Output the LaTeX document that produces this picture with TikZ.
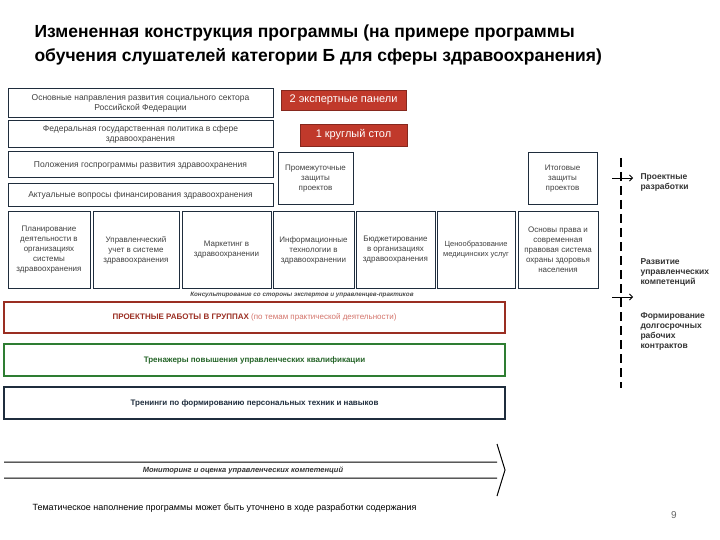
\documentclass[tikz,border=0pt]{standalone}
\usepackage{fontspec}
\setmainfont{Liberation Sans}
\usetikzlibrary{arrows.meta}
\definecolor{dk}{HTML}{1F2D3D}
\definecolor{rd}{HTML}{C0392B}
\definecolor{gr}{HTML}{2E7D32}
\begin{document}
\begin{tikzpicture}[x=1pt,y=-1pt,
 bx/.style={draw=dk,line width=1pt,align=center,font=\fontsize{8.5}{10}\selectfont,text=black!75,inner sep=0pt},
 mx/.style={bx,font=\fontsize{8}{10}\selectfont},
 rbx/.style={draw=rd!70!black,fill=rd,text=white,font=\fontsize{11}{12}\selectfont,inner sep=1pt},
 lab/.style={anchor=north west,align=left,font=\fontsize{8.5}{10}\bfseries\selectfont,text=black!80}]
\useasboundingbox (0,0) rectangle (720,540);
\node[anchor=west,align=left,font=\fontsize{17.5}{24}\bfseries\selectfont] (title) at (31,45) {Измененная конструкция программы (на примере программы\\обучения слушателей категории Б для сферы здравоохранения)};
% left boxes
\node[bx,minimum width=265,minimum height=29] (l1) at (140.5,103.5) {Основные направления развития социального сектора\\Российской Федерации};
\node[bx,minimum width=265,minimum height=27] (l2) at (140.5,134.5) {Федеральная государственная политика в сфере\\здравоохранения};
\node[bx,minimum width=265,minimum height=26] (l3) at (140.5,165) {Положения госпрограммы развития здравоохранения};
\node[bx,minimum width=265,minimum height=23] (l4) at (140.5,195.5) {Актуальные вопросы финансирования здравоохранения};
% red
\node[rbx,minimum width=125,minimum height=20] (r1) at (343.5,100) {2 экспертные панели};
\node[rbx,minimum width=107,minimum height=22] (r2) at (353.5,135) {1 круглый стол};
\node[mx,minimum width=75,minimum height=52] (p1) at (315.5,179) {Промежуточные\\защиты\\проектов};
\node[mx,minimum width=69,minimum height=52] (p2) at (562.5,179) {Итоговые\\защиты\\проектов};
% row of modules
\node[mx,minimum width=82,minimum height=76] (m1) at (49,250) {Планирование\\деятельности в\\организациях\\системы\\здравоохранения};
\node[mx,minimum width=86,minimum height=76] (m2) at (136,250) {Управленческий\\учет в системе\\здравоохранения};
\node[mx,minimum width=89,minimum height=76] (m3) at (226.5,250) {Маркетинг в\\здравоохранении};
\node[mx,minimum width=81,minimum height=76] (m4) at (313.5,250) {Информационные\\технологии в\\здравоохранении};
\node[mx,minimum width=79,minimum height=76] (m5) at (395.5,250) {Бюджетирование\\в организациях\\здравоохранения};
\node[mx,minimum width=78,minimum height=76,font=\fontsize{7.5}{10}\selectfont] (m6) at (476,250) {Ценообразование\\медицинских услуг};
\node[mx,minimum width=80,minimum height=76] (m7) at (558,250) {Основы права и\\современная\\правовая система\\охраны здоровья\\населения};
\node[font=\fontsize{6.3}{7}\bfseries\itshape\selectfont,text=black!70] (cons) at (302,295) {Консультирование со стороны экспертов и управленцев-практиков};
% bars
\node[draw=rd!80!black,line width=1.3pt,minimum width=501,minimum height=31,font=\fontsize{8}{9}\selectfont] (b1) at (254.5,317.5) {\textcolor{rd!80!black}{\bfseries ПРОЕКТНЫЕ РАБОТЫ В ГРУППАХ} \textcolor{rd!70}{(по темам практической деятельности)}};
\node[draw=gr,line width=1.3pt,minimum width=501,minimum height=32,font=\fontsize{8}{9}\bfseries\selectfont,text=gr!80!black] (b2) at (254.5,360) {Тренажеры повышения управленческих квалификации};
\node[draw=dk,line width=1.3pt,minimum width=501,minimum height=32,font=\fontsize{8}{9}\bfseries\selectfont,text=dk] (b3) at (254.5,403) {Тренинги по формированию персональных техник и навыков};
% big arrow
\coordinate (a1) at (4,462); \coordinate (a2) at (497,462);
\coordinate (a3) at (4,478); \coordinate (a4) at (497,478);
\coordinate (at) at (497,444); \coordinate (ab) at (497,496); \coordinate (ap) at (505,470);
\draw[line width=1pt] (a1) -- (a2) (a3) -- (a4) (at) -- (ap) -- (ab);
\node[font=\fontsize{7.5}{8.5}\bfseries\itshape\selectfont,text=black!80] (mon) at (243,470) {Мониторинг и оценка управленческих компетенций};
% dashed timeline
\coordinate (d1) at (621,158); \coordinate (d2) at (621,388);
\draw[line width=1.8pt,dash pattern=on 9pt off 5pt] (d1) -- (d2);
\coordinate (t1) at (612,178); \coordinate (t1e) at (633,178);
\coordinate (t2) at (612,297); \coordinate (t2e) at (633,297);
\draw[-{Straight Barb[length=3pt]},line width=0.8pt] (t1) -- (t1e);
\draw[-{Straight Barb[length=3pt]},line width=0.8pt] (t2) -- (t2e);
\node[lab] (q1) at (637,170) {Проектные\\разработки};
\node[lab] (q2) at (637,255) {Развитие\\управленческих\\компетенций};
\node[lab] (q3) at (637,309) {Формирование\\долгосрочных\\рабочих\\контрактов};
\node[anchor=west,font=\fontsize{9}{10}\selectfont] (foot) at (29,508) {Тематическое наполнение программы может быть уточнено в ходе разработки содержания};
\node[font=\fontsize{10}{11}\selectfont,text=black!60] (pg) at (674,515) {9};
\end{tikzpicture}
\end{document}
